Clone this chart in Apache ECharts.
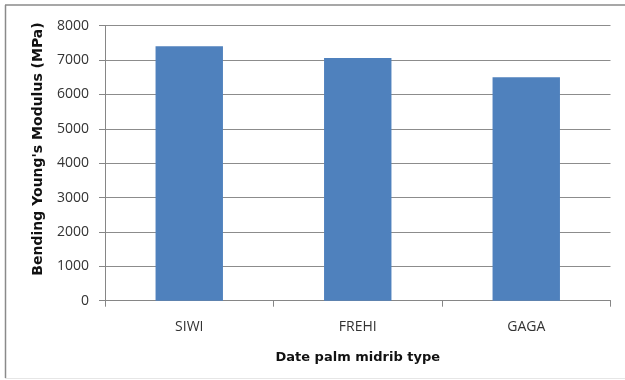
<!DOCTYPE html>
<html>
<head>
<meta charset="utf-8">
<script src="https://cdn.jsdelivr.net/npm/echarts@6/dist/echarts.min.js"></script>
<style>
  html, body { margin: 0; padding: 0; background: #fff; }
  #chart { width: 625px; height: 380px; }
</style>
</head>
<body>
<div id="chart"></div>
<script>
// Bending Young's modulus by date palm midrib type
const categories = ['SIWI', 'FREHI', 'GAGA'];
const modulusMPa = [7400, 7060, 6500];
const yTicks = [0, 1000, 2000, 3000, 4000, 5000, 6000, 7000, 8000];

const yTitle = "Bending Young's Modulus (MPa)";
const xTitle = 'Date palm midrib type';

const chart = echarts.init(document.getElementById('chart'), null, { renderer: 'canvas' });
const labelFont = "'Open Sans', sans-serif";
const titleFont = "'DejaVu Sans', sans-serif";

chart.setOption({
  animation: false,
  backgroundColor: '#ffffff',
  grid: { left: 105, right: 14.5, top: 25.7, bottom: 79.3 },
  xAxis: {
    type: 'category',
    data: categories,
    axisLine: { lineStyle: { color: '#868686', width: 1 } },
    axisTick: { show: true, length: 6, lineStyle: { color: '#868686' } },
    axisLabel: { color: '#333333', fontFamily: labelFont, fontSize: 14, margin: 19 },
    name: xTitle,
    nameLocation: 'middle',
    nameGap: 50,
    nameTextStyle: { color: '#111111', fontFamily: titleFont, fontSize: 13, fontWeight: 'bold' }
  },
  yAxis: {
    type: 'value',
    min: yTicks[0],
    max: yTicks[yTicks.length - 1],
    interval: yTicks[1] - yTicks[0],
    axisLine: { show: true, lineStyle: { color: '#868686', width: 1 } },
    axisTick: { show: true, length: 6, lineStyle: { color: '#868686' } },
    axisLabel: {
      color: '#333333', fontFamily: labelFont, fontSize: 14, margin: 16,
      formatter: v => String(v)
    },
    splitLine: { lineStyle: { color: '#8c8c8c', width: 1 } }
  },
  series: [{
    type: 'bar',
    data: modulusMPa,
    barWidth: '40%',
    itemStyle: { color: '#4F81BD' }
  }],
  graphic: [
    {
      type: 'text',
      x: 38, y: 149,
      rotation: Math.PI / 2,
      style: {
        text: yTitle,
        fill: '#111111',
        font: "bold 14px 'DejaVu Sans', sans-serif",
        textAlign: 'center',
        textVerticalAlign: 'middle'
      }
    },
    { type: 'line', shape: { x1: 5, y1: 5, x2: 625, y2: 5 }, style: { stroke: '#8a8a8a', lineWidth: 1.5 } },
    { type: 'line', shape: { x1: 5.5, y1: 5, x2: 5.5, y2: 378 }, style: { stroke: '#8a8a8a', lineWidth: 1.5 } },
    { type: 'line', shape: { x1: 5, y1: 378.5, x2: 625, y2: 378.5 }, style: { stroke: '#e6e6e6', lineWidth: 1 } }
  ]
});
</script>
</body>
</html>
